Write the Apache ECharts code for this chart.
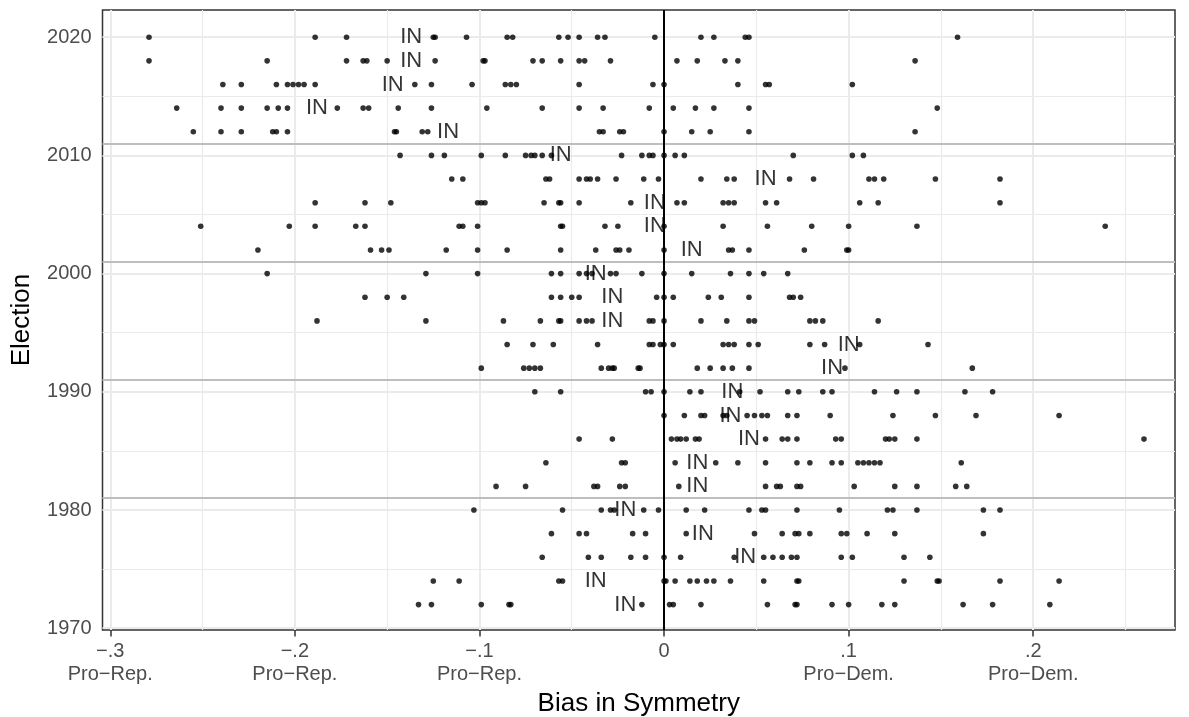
<!DOCTYPE html>
<html>
<head>
<meta charset="utf-8">
<title>Bias in Symmetry by Election</title>
<script src="https://cdn.jsdelivr.net/npm/echarts@6.0.0/dist/echarts.min.js"></script>
<style>
  html, body { margin: 0; padding: 0; background: #ffffff; }
  #chart { width: 1189px; height: 717px; }
</style>
</head>
<body>
<div id="chart"></div>
<script>
// Partisan bias in seats-votes symmetry, one dot per state delegation and election.
const elections = [2020, 2018, 2016, 2014, 2012, 2010, 2008, 2006, 2004, 2002, 2000, 1998, 1996,
                   1994, 1992, 1990, 1988, 1986, 1984, 1982, 1980, 1978, 1976, 1974, 1972];

const bias2020 = [-0.279, -0.189, -0.172, -0.125, -0.124, -0.107, -0.085, -0.082, -0.057, -0.052, -0.046, -0.036, -0.032, -0.005, 0.020, 0.027, 0.044, 0.046, 0.159];
const bias2018 = [-0.279, -0.215, -0.172, -0.163, -0.161, -0.150, -0.124, -0.098, -0.097, -0.071, -0.066, -0.056, -0.046, -0.043, -0.029, 0.007, 0.018, 0.033, 0.040, 0.136];
const bias2016 = [-0.239, -0.229, -0.210, -0.204, -0.201, -0.198, -0.195, -0.189, -0.135, -0.126, -0.104, -0.086, -0.083, -0.080, -0.046, -0.006, 0.000, 0.040, 0.055, 0.057, 0.102];
const bias2014 = [-0.264, -0.240, -0.229, -0.215, -0.209, -0.204, -0.177, -0.163, -0.160, -0.144, -0.126, -0.096, -0.066, -0.046, -0.033, -0.008, 0.005, 0.017, 0.027, 0.046, 0.148];
const bias2012 = [-0.255, -0.240, -0.229, -0.212, -0.210, -0.204, -0.146, -0.145, -0.131, -0.128, -0.035, -0.033, -0.024, -0.022, 0.000, 0.015, 0.025, 0.046, 0.136];
const bias2010 = [-0.143, -0.126, -0.119, -0.099, -0.086, -0.075, -0.072, -0.070, -0.066, -0.061, -0.023, -0.012, -0.008, -0.006, 0.000, 0.006, 0.011, 0.070, 0.102, 0.108];
const bias2008 = [-0.115, -0.109, -0.064, -0.062, -0.046, -0.042, -0.040, -0.036, -0.026, -0.011, -0.003, 0.020, 0.034, 0.038, 0.068, 0.081, 0.111, 0.114, 0.119, 0.147, 0.182];
const bias2006 = [-0.189, -0.162, -0.148, -0.101, -0.099, -0.097, -0.065, -0.057, -0.056, -0.046, -0.018, 0.007, 0.011, 0.032, 0.035, 0.038, 0.055, 0.061, 0.106, 0.116, 0.182];
const bias2004 = [-0.251, -0.203, -0.189, -0.167, -0.162, -0.111, -0.109, -0.101, -0.056, -0.055, -0.032, -0.025, 0.000, 0.032, 0.056, 0.080, 0.100, 0.137, 0.239];
const bias2002 = [-0.220, -0.159, -0.153, -0.149, -0.118, -0.101, -0.085, -0.056, -0.037, -0.026, -0.024, -0.019, 0.000, 0.035, 0.037, 0.046, 0.076, 0.099, 0.100];
const bias2000 = [-0.215, -0.129, -0.101, -0.061, -0.056, -0.046, -0.042, -0.039, -0.029, -0.026, -0.012, 0.000, 0.015, 0.036, 0.046, 0.054, 0.067];
const bias1998 = [-0.162, -0.150, -0.141, -0.061, -0.056, -0.050, -0.046, -0.004, 0.000, 0.005, 0.024, 0.031, 0.046, 0.068, 0.070, 0.074];
const bias1996 = [-0.188, -0.129, -0.087, -0.067, -0.057, -0.056, -0.046, -0.042, -0.039, -0.008, -0.006, 0.000, 0.020, 0.034, 0.046, 0.049, 0.079, 0.082, 0.086, 0.116];
const bias1994 = [-0.085, -0.071, -0.060, -0.036, -0.008, -0.006, -0.002, 0.000, 0.005, 0.032, 0.035, 0.038, 0.046, 0.051, 0.079, 0.087, 0.106, 0.143];
const bias1992 = [-0.099, -0.076, -0.073, -0.070, -0.067, -0.034, -0.030, -0.028, -0.027, -0.014, -0.013, 0.018, 0.025, 0.032, 0.037, 0.046, 0.098, 0.167];
const bias1990 = [-0.070, -0.056, -0.010, -0.007, 0.000, 0.014, 0.020, 0.041, 0.052, 0.067, 0.073, 0.086, 0.091, 0.114, 0.126, 0.137, 0.163, 0.178];
const bias1988 = [0.000, 0.011, 0.020, 0.022, 0.032, 0.034, 0.045, 0.049, 0.053, 0.056, 0.067, 0.072, 0.090, 0.124, 0.147, 0.169, 0.214];
const bias1986 = [-0.046, -0.028, 0.004, 0.007, 0.009, 0.012, 0.017, 0.019, 0.055, 0.064, 0.067, 0.072, 0.093, 0.096, 0.120, 0.122, 0.125, 0.137, 0.260];
const bias1984 = [-0.064, -0.023, -0.021, 0.006, 0.028, 0.040, 0.055, 0.072, 0.079, 0.091, 0.096, 0.105, 0.108, 0.111, 0.114, 0.117, 0.161];
const bias1982 = [-0.091, -0.075, -0.038, -0.036, -0.024, -0.021, 0.008, 0.055, 0.061, 0.063, 0.072, 0.074, 0.103, 0.125, 0.137, 0.158, 0.164];
const bias1980 = [-0.103, -0.055, -0.034, -0.029, -0.027, -0.011, -0.003, 0.012, 0.022, 0.046, 0.053, 0.055, 0.072, 0.095, 0.121, 0.124, 0.137, 0.173, 0.182];
const bias1978 = [-0.061, -0.046, -0.042, -0.017, -0.010, 0.012, 0.049, 0.064, 0.071, 0.073, 0.079, 0.096, 0.099, 0.110, 0.125, 0.173];
const bias1976 = [-0.066, -0.041, -0.034, -0.018, -0.010, 0.000, 0.009, 0.038, 0.054, 0.059, 0.064, 0.069, 0.072, 0.096, 0.102, 0.130, 0.144];
const bias1974 = [-0.125, -0.111, -0.057, -0.055, 0.000, 0.001, 0.006, 0.014, 0.018, 0.023, 0.027, 0.036, 0.054, 0.072, 0.073, 0.130, 0.148, 0.149, 0.182, 0.214];
const bias1972 = [-0.133, -0.126, -0.099, -0.084, -0.083, -0.012, 0.003, 0.005, 0.020, 0.056, 0.071, 0.072, 0.091, 0.100, 0.118, 0.125, 0.162, 0.178, 0.209];

// Indiana's bias in each election, same order as `elections`
const indianaBias = [-0.137, -0.137, -0.147, -0.188, -0.117, -0.056, 0.055, -0.005, -0.005, 0.015,
                     -0.037, -0.028, -0.028, 0.100, 0.091, 0.037, 0.036, 0.046, 0.018, 0.018,
                     -0.021, 0.021, 0.044, -0.037, -0.021];

// Redistricting years
const redistrictingYears = [1981, 1991, 2001, 2011];

// Axis ticks and labels
const xTicks = [-0.3, -0.2, -0.1, 0, 0.1, 0.2];
const xTickLabels = ['\u2212.3\nPro\u2212Rep.', '\u2212.2\nPro\u2212Rep.', '\u2212.1\nPro\u2212Rep.', '0', '.1\nPro\u2212Dem.', '.2\nPro\u2212Dem.'];
const xMinorGrid = [-0.25, -0.15, -0.05, 0.05, 0.15, 0.25];
const yTicks = [1970, 1980, 1990, 2000, 2010, 2020];
const yMinorGrid = [1975, 1985, 1995, 2005, 2015];

const biasByYear = [bias2020, bias2018, bias2016, bias2014, bias2012, bias2010, bias2008, bias2006,
                    bias2004, bias2002, bias2000, bias1998, bias1996, bias1994, bias1992, bias1990,
                    bias1988, bias1986, bias1984, bias1982, bias1980, bias1978, bias1976, bias1974, bias1972];

const statePoints = [];
elections.forEach(function (yr, i) {
  biasByYear[i].forEach(function (v) { statePoints.push([v, yr]); });
});
const indianaPoints = elections.map(function (yr, i) { return [indianaBias[i], yr]; });

const FONT = '"Liberation Sans", Arial, Helvetica, sans-serif';
const gridMajor = { color: '#EBEBEB', width: 2, type: 'solid' };
const gridMinor = { color: '#EBEBEB', width: 1.2, type: 'solid' };

const refLines = []
  .concat(xMinorGrid.map(function (v) { return { xAxis: v, lineStyle: gridMinor }; }))
  .concat(yMinorGrid.map(function (v) { return { yAxis: v, lineStyle: gridMinor }; }))
  .concat(xTicks.map(function (v) { return { xAxis: v, lineStyle: gridMajor }; }))
  .concat(yTicks.map(function (v) { return { yAxis: v, lineStyle: gridMajor }; }))
  .concat(redistrictingYears.map(function (v) { return { yAxis: v, lineStyle: { color: '#BEBEBE', width: 2, type: 'solid' } }; }))
  .concat([{ xAxis: 0, lineStyle: { color: '#000000', width: 2, type: 'solid' } }]);

const chart = echarts.init(document.getElementById('chart'), null, { renderer: 'canvas' });

chart.setOption({
  animation: false,
  backgroundColor: '#ffffff',
  textStyle: { fontFamily: FONT },
  grid: {
    left: 102.5, right: 14, top: 10, bottom: 87,
    containLabel: false,
    outerBoundsMode: 'none',
    show: true, borderColor: '#333333', borderWidth: 1.5, backgroundColor: '#ffffff'
  },
  xAxis: {
    type: 'value',
    min: -0.3042, max: 0.2768,
    name: 'Bias in Symmetry',
    nameLocation: 'middle',
    nameGap: 58,
    nameTextStyle: { fontSize: 26, color: '#000000', fontFamily: FONT },
    axisLine: { show: false },
    splitLine: { show: false },
    axisTick: { show: true, customValues: xTicks, length: 6.5, lineStyle: { color: '#333333', width: 1.5 } },
    axisLabel: {
      customValues: xTicks,
      margin: 10,
      fontSize: 20,
      lineHeight: 23,
      color: '#4D4D4D',
      fontFamily: FONT,
      align: 'center',
      formatter: function (val) {
        for (let i = 0; i < xTicks.length; i++) {
          if (Math.abs(xTicks[i] - val) < 1e-6) return xTickLabels[i];
        }
        return '';
      }
    }
  },
  yAxis: {
    type: 'value',
    min: 1969.85, max: 2022.3,
    name: 'Election',
    nameLocation: 'middle',
    nameGap: 68,
    nameRotate: 90,
    nameTextStyle: { fontSize: 26, color: '#000000', fontFamily: FONT },
    axisLine: { show: false },
    splitLine: { show: false },
    axisTick: { show: true, customValues: yTicks, length: 6.5, lineStyle: { color: '#333333', width: 1.5 } },
    axisLabel: {
      customValues: yTicks,
      margin: 11,
      fontSize: 20,
      color: '#4D4D4D',
      fontFamily: FONT,
      formatter: function (val) { return String(Math.round(val)); }
    }
  },
  series: [
    {
      name: 'reference',
      type: 'line',
      data: [],
      z: 1,
      silent: true,
      markLine: {
        silent: true,
        z: 1,
        symbol: ['none', 'none'],
        label: { show: false },
        animation: false,
        data: refLines
      }
    },
    {
      name: 'states',
      type: 'scatter',
      data: statePoints,
      z: 3,
      symbol: 'circle',
      symbolSize: 5.6,
      itemStyle: { color: '#000000' },
      silent: true
    },
    {
      name: 'Indiana',
      type: 'scatter',
      data: indianaPoints,
      z: 4,
      symbol: 'circle',
      symbolSize: 1,
      itemStyle: { color: 'rgba(0,0,0,0)' },
      silent: true,
      label: {
        show: true,
        position: 'inside',
        formatter: 'IN',
        fontSize: 22,
        color: '#000000',
        fontFamily: FONT,
        align: 'center',
        verticalAlign: 'middle'
      }
    }
  ]
});
</script>
</body>
</html>
